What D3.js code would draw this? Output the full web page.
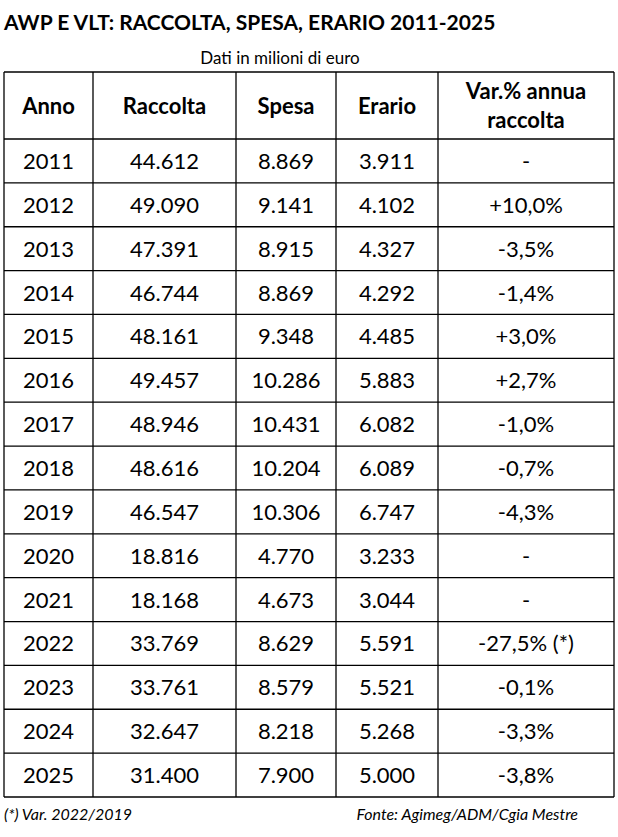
<!DOCTYPE html><html><head><meta charset="utf-8"><script src="https://cdn.jsdelivr.net/npm/d3@7"></script>
<style>body{margin:0;background:#fff}</style></head><body><script>
const years=["2011","2012","2013","2014","2015","2016","2017","2018","2019","2020","2021","2022","2023","2024","2025"];
const raccolta=["44.612","49.090","47.391","46.744","48.161","49.457","48.946","48.616","46.547","18.816","18.168","33.769","33.761","32.647","31.400"];
const spesa=["8.869","9.141","8.915","8.869","9.348","10.286","10.431","10.204","10.306","4.770","4.673","8.629","8.579","8.218","7.900"];
const erario=["3.911","4.102","4.327","4.292","4.485","5.883","6.082","6.089","6.747","3.233","3.044","5.591","5.521","5.268","5.000"];
const variazione=["-","+10,0%","-3,5%","-1,4%","+3,0%","+2,7%","-1,0%","-0,7%","-4,3%","-","-","-27,5% (*)","-0,1%","-3,3%","-3,8%"];
const headers=[["Anno"],["Raccolta"],["Spesa"],["Erario"],["Var.% annua","raccolta"]];
(function(){
const W=618,H=837,F="Lato, 'Open Sans', sans-serif";
const svg=d3.select("body").append("svg").attr("width",W).attr("height",H);
svg.append("text").attr("x",4).attr("y",30).attr("font-family",F).attr("font-weight","bold").attr("font-size",21).text("AWP E VLT: RACCOLTA, SPESA, ERARIO 2011-2025");
svg.append("text").attr("x",280).attr("y",64).attr("text-anchor","middle").attr("font-family",F).attr("font-size",17).text("Dati in milioni di euro");
const colEdges=[4,93,236,336,438,614];
const t0=72,headH=67;
const y=d3.scaleBand().domain(years).range([t0+headH,797]);
const g=svg.append("g").attr("font-family",F);
headers.forEach((h,i)=>{const cx=(colEdges[i]+colEdges[i+1])/2;
 h.forEach((t,j)=>g.append("text").attr("x",cx).attr("y",h.length==1?t0+headH/2+8:t0+27+j*29).attr("text-anchor","middle").attr("font-weight","bold").attr("font-size",22).text(t));});
const cols=[years,raccolta,spesa,erario,variazione];
years.forEach((yr,r)=>{cols.forEach((c,i)=>{const cx=(colEdges[i]+colEdges[i+1])/2;
 g.append("text").attr("x",cx).attr("y",y(yr)+y.bandwidth()/2+8).attr("text-anchor","middle").attr("font-size",22).text(c[r]);});});
const lines=g.append("g").attr("stroke","#000").attr("stroke-width",1.3);
[t0,t0+headH,...years.map(d=>y(d)+y.bandwidth())].forEach(v=>lines.append("line").attr("x1",4).attr("x2",614).attr("y1",v).attr("y2",v));
colEdges.forEach(v=>lines.append("line").attr("x1",v).attr("x2",v).attr("y1",t0).attr("y2",797));
svg.append("text").attr("x",4).attr("y",820).attr("font-family",F).attr("font-style","italic").attr("font-size",16).text("(*) Var. 2022/2019");
svg.append("text").attr("x",578).attr("y",820).attr("text-anchor","end").attr("font-family",F).attr("font-style","italic").attr("font-size",16).text("Fonte: Agimeg/ADM/Cgia Mestre");
})();
</script></body></html>
